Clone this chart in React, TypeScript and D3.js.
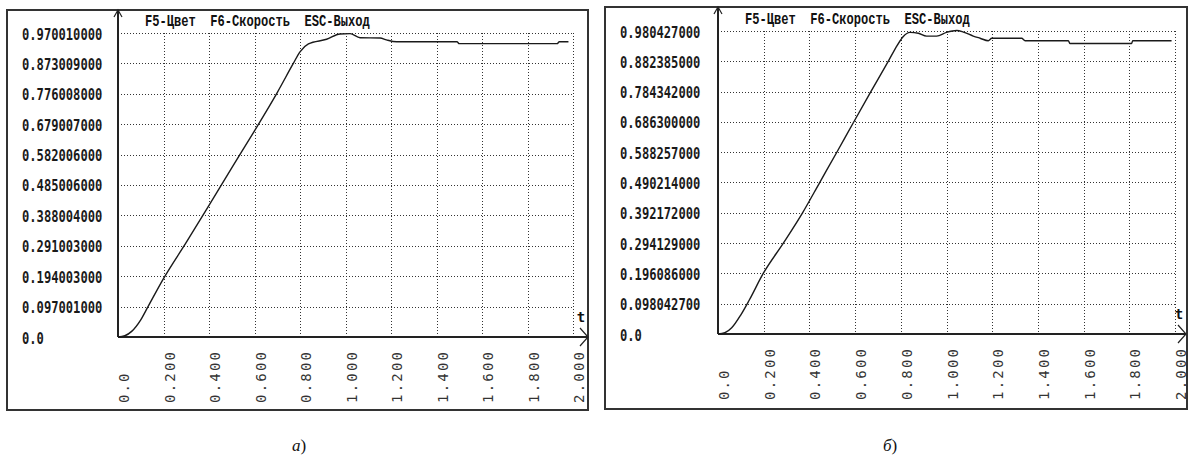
import React, { useEffect, useRef } from 'react';
import * as d3 from 'd3';

// Tick labels as printed on the screen captures
const xTickLabels = ['0.0', '0.200', '0.400', '0.600', '0.800', '1.000', '1.200', '1.400', '1.600', '1.800', '2.000'];
const yTickLabelsA = [
  '0.0', '0.097001000', '0.194003000', '0.291003000', '0.388004000', '0.485006000',
  '0.582006000', '0.679007000', '0.776008000', '0.873009000', '0.970010000',
];
const yTickLabelsB = [
  '0.0', '0.098042700', '0.196086000', '0.294129000', '0.392172000', '0.490214000',
  '0.588257000', '0.686300000', '0.784342000', '0.882385000', '0.980427000',
];

// Transient response (t, value)
const seriesA: [number, number][] = [
  [0, 0], [0.03, 0.004], [0.06, 0.018], [0.1, 0.055], [0.132, 0.097], [0.198, 0.184],
  [0.3, 0.302], [0.4, 0.42], [0.5, 0.54], [0.6, 0.658], [0.7, 0.78], [0.77, 0.872],
  [0.8, 0.91], [0.837, 0.935], [0.917, 0.95], [0.976, 0.967], [1.02, 0.968],
  [1.064, 0.955], [1.152, 0.954], [1.18, 0.948], [1.225, 0.942], [1.49, 0.942],
  [1.5, 0.936], [1.93, 0.936], [1.94, 0.942], [1.98, 0.942],
];
const seriesB: [number, number][] = [
  [0, 0], [0.03, 0.004], [0.06, 0.02], [0.1, 0.062], [0.137, 0.11], [0.198, 0.196],
  [0.286, 0.294], [0.37, 0.392], [0.445, 0.49], [0.52, 0.588], [0.594, 0.686],
  [0.669, 0.784], [0.745, 0.882], [0.785, 0.935], [0.81, 0.962], [0.84, 0.976],
  [0.877, 0.973], [0.913, 0.964], [0.957, 0.964], [1.0, 0.976], [1.045, 0.982],
  [1.074, 0.977], [1.117, 0.964], [1.147, 0.957], [1.183, 0.949], [1.198, 0.957],
  [1.329, 0.957], [1.344, 0.949], [1.533, 0.949], [1.54, 0.94], [1.81, 0.94],
  [1.815, 0.949], [1.985, 0.949],
];

const title = 'F5-Цвет  F6-Скорость  ESC-Выход';

interface Layout {
  frame: { x: number; y: number; w: number; h: number };
  axisX: number;
  axisY: number;
  gridTop: number;
  gridRight: number;
  arrowRight: number;
  caption: string;
  captionX: number;
}

const panels: { layout: Layout; yLabels: string[]; data: [number, number][] }[] = [
  {
    layout: { frame: { x: 7, y: 10, w: 581, h: 400 }, axisX: 118, axisY: 337, gridTop: 33, gridRight: 573, arrowRight: 588, caption: 'а', captionX: 299 },
    yLabels: yTickLabelsA,
    data: seriesA,
  },
  {
    layout: { frame: { x: 605, y: 7, w: 582, h: 402 }, axisX: 718, axisY: 334, gridTop: 31, gridRight: 1175, arrowRight: 1186, caption: 'б', captionX: 890 },
    yLabels: yTickLabelsB,
    data: seriesB,
  },
];

const App: React.FC = () => {
  const svgRef = useRef<SVGSVGElement>(null);

  useEffect(() => {
    if (!svgRef.current) return;
    const svg = d3.select(svgRef.current);
    svg.selectAll('*').remove();

    panels.forEach(({ layout: L, yLabels, data }) => {
      const g = svg.append('g');
      const yValues = yLabels.map((s) => parseFloat(s));
      const xValues = xTickLabels.map((s) => parseFloat(s));

      const x = d3.scaleLinear().domain([0, 2]).range([L.axisX, L.gridRight]);
      const y = d3.scaleLinear().domain([0, d3.max(yValues) as number]).range([L.axisY, L.gridTop]);

      // outer frame
      g.append('rect')
        .attr('x', L.frame.x)
        .attr('y', L.frame.y)
        .attr('width', L.frame.w)
        .attr('height', L.frame.h)
        .attr('fill', 'none')
        .attr('stroke', '#333')
        .attr('stroke-width', 2);

      // dotted grid
      g.selectAll('line.hgrid')
        .data(yValues.slice(1))
        .enter()
        .append('line')
        .attr('x1', L.axisX)
        .attr('x2', L.gridRight)
        .attr('y1', (d) => Math.round(y(d)) + 0.5)
        .attr('y2', (d) => Math.round(y(d)) + 0.5)
        .attr('stroke', '#333')
        .attr('stroke-width', 1)
        .attr('stroke-dasharray', '1,2');

      g.selectAll('line.vgrid')
        .data(xValues.slice(1))
        .enter()
        .append('line')
        .attr('x1', (d) => Math.round(x(d)) + 0.5)
        .attr('x2', (d) => Math.round(x(d)) + 0.5)
        .attr('y1', L.gridTop)
        .attr('y2', L.axisY)
        .attr('stroke', '#333')
        .attr('stroke-width', 1)
        .attr('stroke-dasharray', '1,2');

      // axes with arrows
      g.append('line')
        .attr('x1', L.axisX).attr('x2', L.axisX)
        .attr('y1', L.frame.y).attr('y2', L.axisY)
        .attr('stroke', '#222').attr('stroke-width', 2);
      g.append('line')
        .attr('x1', L.axisX).attr('x2', L.arrowRight)
        .attr('y1', L.axisY).attr('y2', L.axisY)
        .attr('stroke', '#222').attr('stroke-width', 2);
      g.append('polyline')
        .attr('points', `${L.axisX - 4},${L.frame.y + 7} ${L.axisX},${L.frame.y} ${L.axisX + 4},${L.frame.y + 7}`)
        .attr('fill', 'none').attr('stroke', '#222').attr('stroke-width', 1.2);
      g.append('polyline')
        .attr('points', `${L.arrowRight - 8},${L.axisY - 9} ${L.arrowRight},${L.axisY} ${L.arrowRight - 8},${L.axisY + 9}`)
        .attr('fill', 'none').attr('stroke', '#222').attr('stroke-width', 1.2);

      g.append('text')
        .attr('x', L.arrowRight - 7)
        .attr('y', L.axisY - 15)
        .attr('font-family', '"DejaVu Sans Mono", monospace')
        .attr('font-weight', 'bold')
        .attr('font-size', 14)
        .attr('fill', '#111')
        .attr('text-anchor', 'middle')
        .text('t');

      // title (keep the double spaces)
      g.append('text')
        .attr('x', L.axisX + 27)
        .attr('y', L.gridTop - 12)
        .attr('dominant-baseline', 'central')
        .attr('font-family', '"Liberation Mono", "Courier New", monospace')
        .attr('font-weight', 'bold')
        .attr('font-size', 17)
        .attr('fill', '#111')
        .style('white-space', 'pre')
        .attr('textLength', title.length * 7.25)
        .attr('lengthAdjust', 'spacingAndGlyphs')
        .text(title.replace(/ /g, '\u00A0'));

      // y tick labels
      g.selectAll('text.ylab')
        .data(yLabels)
        .enter()
        .append('text')
        .attr('x', L.frame.x + 15)
        .attr('y', (d) => y(parseFloat(d)) + 1)
        .attr('dominant-baseline', 'central')
        .attr('font-family', '"DejaVu Sans Mono", monospace')
        .attr('font-weight', 'bold')
        .attr('font-size', 16)
        .attr('fill', '#1a1a1a')
        .attr('textLength', (d) => d.length * 7.3)
        .attr('lengthAdjust', 'spacingAndGlyphs')
        .text((d) => d);

      // x tick labels, rotated
      g.selectAll('text.xlab')
        .data(xTickLabels)
        .enter()
        .append('text')
        .attr('transform', (d) => `translate(${x(parseFloat(d)) + 6},${L.axisY + 66}) rotate(-90)`)
        .attr('dominant-baseline', 'central')
        .attr('font-family', '"DejaVu Sans Mono", monospace')
        .attr('font-size', 14)
        .attr('fill', '#333')
        .attr('textLength', (d) => d.length * 10.8 - 3)
        .attr('lengthAdjust', 'spacing')
        .text((d) => d);

      // response curve
      const line = d3
        .line<[number, number]>()
        .x((d) => x(d[0]))
        .y((d) => y(d[1]))
        .curve(d3.curveMonotoneX);
      g.append('path')
        .datum(data)
        .attr('d', line)
        .attr('fill', 'none')
        .attr('stroke', '#1a1a1a')
        .attr('stroke-width', 1.4);

      // caption
      const cap = g.append('text')
        .attr('x', L.captionX)
        .attr('y', 451)
        .attr('text-anchor', 'middle')
        .attr('font-family', '"Liberation Serif", "Times New Roman", serif')
        .attr('font-size', 17)
        .attr('fill', '#111');
      cap.append('tspan').attr('font-style', 'italic').text(L.caption);
      cap.append('tspan').text(')');
    });
  }, []);

  return (
    <svg
      ref={svgRef}
      width={1189}
      height={459}
      style={{ position: 'absolute', left: 0, top: 0, background: '#fff' }}
    />
  );
};

export default App;
